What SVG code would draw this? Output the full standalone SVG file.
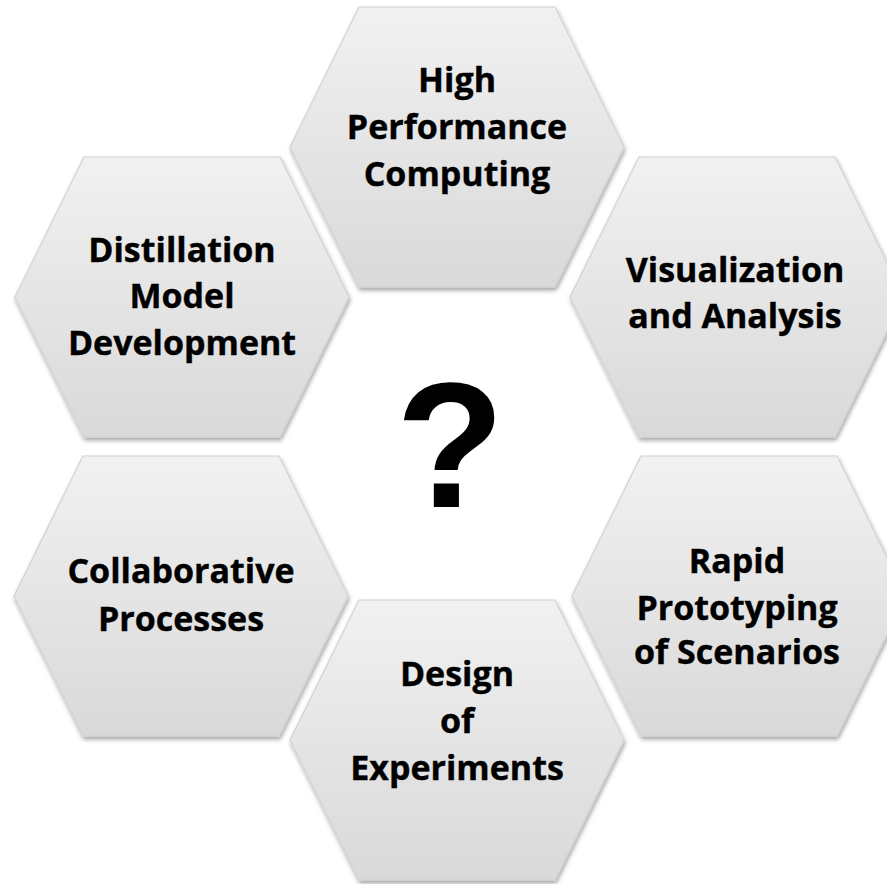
<svg xmlns="http://www.w3.org/2000/svg" xmlns:xlink="http://www.w3.org/1999/xlink" width="887" height="884" viewBox="0 0 887 884">
  <style>
    .hex { fill: url(#hexFill); stroke: #d2d2d2; stroke-width: 1.2; filter: url(#shadow); }
    .label { font-family: "Open Sans", "Liberation Sans", sans-serif; font-weight: bold; font-size: 34px; fill: #000; stroke: #000; stroke-width: 0.4; text-anchor: middle; }
    .mark { font-family: "Liberation Sans", Arial, sans-serif; font-weight: bold; font-size: 178px; fill: #000; text-anchor: middle; }
  </style>
  <defs>
    <linearGradient id="hexFill" x1="0" y1="0" x2="0" y2="1">
      <stop offset="0" stop-color="#f1f1f1"/>
      <stop offset="1" stop-color="#d9d9d9"/>
    </linearGradient>
    <filter id="shadow" x="-10%" y="-10%" width="120%" height="125%">
      <feDropShadow dx="1" dy="3" stdDeviation="2" flood-color="#000" flood-opacity="0.35"/>
    </filter>
    <!-- flat-topped hexagon centred on the origin -->
    <path id="hexShape" d="M-98,-140 L98,-140 L167,0 L98,140 L-98,140 L-167,0 Z"/>
  </defs>
  <rect width="887" height="884" fill="#ffffff"/>

  <g id="node-hpc" transform="translate(457,147)">
    <use xlink:href="#hexShape" href="#hexShape" class="hex"/>
    <text class="label" x="0" y="-55">High</text>
    <text class="label" x="0" y="-8">Performance</text>
    <text class="label" x="0" y="39">Computing</text>
  </g>

  <g id="node-distillation" transform="translate(182,297)">
    <use xlink:href="#hexShape" href="#hexShape" class="hex"/>
    <text class="label" x="0" y="-35">Distillation</text>
    <text class="label" x="0" y="11">Model</text>
    <text class="label" x="0" y="58">Development</text>
  </g>

  <g id="node-visualization" transform="translate(737,297)">
    <use xlink:href="#hexShape" href="#hexShape" class="hex"/>
    <text class="label" x="-2" y="-15">Visualization</text>
    <text class="label" x="-2" y="31">and Analysis</text>
  </g>

  <g id="node-collaborative" transform="translate(181,596)">
    <use xlink:href="#hexShape" href="#hexShape" class="hex"/>
    <text class="label" x="0" y="-13">Collaborative</text>
    <text class="label" x="0" y="35">Processes</text>
  </g>

  <g id="node-rapid" transform="translate(739,596)">
    <use xlink:href="#hexShape" href="#hexShape" class="hex"/>
    <text class="label" x="-2" y="-23">Rapid</text>
    <text class="label" x="-2" y="24">Prototyping</text>
    <text class="label" x="-2" y="68">of Scenarios</text>
  </g>

  <g id="node-design" transform="translate(457,740)">
    <use xlink:href="#hexShape" href="#hexShape" class="hex"/>
    <text class="label" x="0" y="-54">Design</text>
    <text class="label" x="0" y="-7">of</text>
    <text class="label" x="0" y="40">Experiments</text>
  </g>

  <g id="center-mark">
    <text class="mark" x="450" y="507">?</text>
  </g>
</svg>
